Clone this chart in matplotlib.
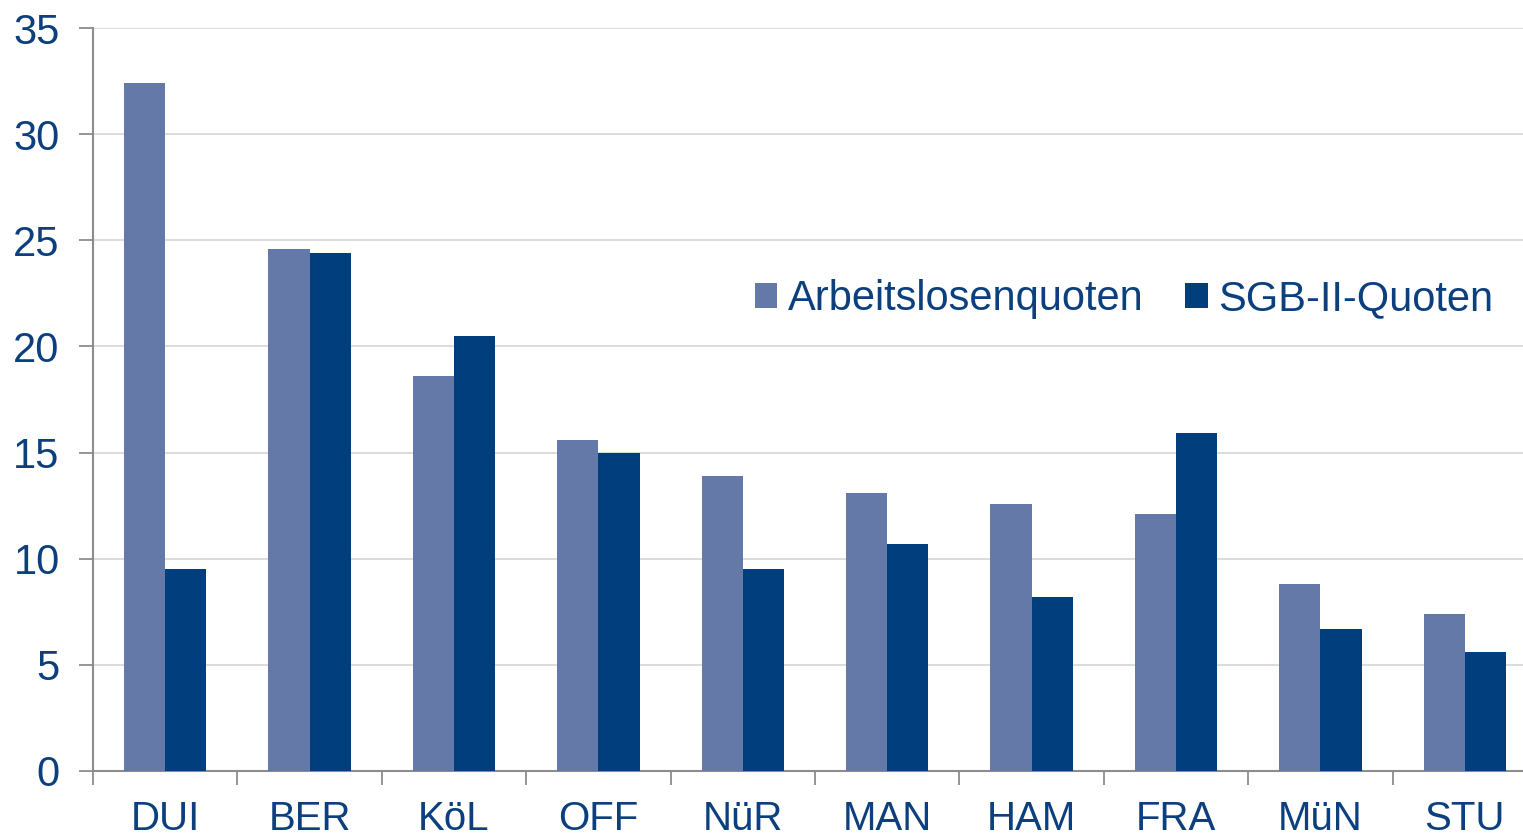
import numpy as np
import matplotlib.pyplot as plt
from matplotlib.ticker import FixedLocator, NullFormatter

plt.rcParams['font.family'] = ['Liberation Sans', 'DejaVu Sans']

staedte = ['DUI', 'BER', 'KöL', 'OFF', 'NüR', 'MAN', 'HAM', 'FRA', 'MüN', 'STU']
arbeitslosenquoten = [32.4, 24.6, 18.6, 15.6, 13.9, 13.1, 12.6, 12.1, 8.8, 7.4]
sgb2_quoten = [9.5, 24.4, 20.5, 15.0, 9.5, 10.7, 8.2, 15.9, 6.7, 5.6]

hell = '#6479A8'
dunkel = '#003E7D'
textfarbe = '#0B3F7E'
achse = '#8C8C8C'

fig = plt.figure(figsize=(15.23, 8.35), dpi=100)
ax = fig.add_axes([93 / 1523, 1 - 771 / 835, 1444 / 1523, 743 / 835])

x = np.arange(len(staedte))
w = 0.285
ax.bar(x - w / 2, arbeitslosenquoten, w, color=hell, label='Arbeitslosenquoten', zorder=3)
ax.bar(x + w / 2, sgb2_quoten, w, color=dunkel, label='SGB-II-Quoten', zorder=3)

ax.set_xlim(-0.5, len(staedte) - 0.5)
ax.set_ylim(0, 35)
ax.set_yticks(np.arange(0, 36, 5))
ax.yaxis.grid(True, color='#D9D9D9', linewidth=1.3, zorder=0)

# Kategorien als Minor-Ticks, Trennstriche als Major-Ticks
ax.xaxis.set_major_locator(FixedLocator(np.arange(-0.5, len(staedte), 1.0)))
ax.xaxis.set_major_formatter(NullFormatter())
ax.xaxis.set_minor_locator(FixedLocator(x))
ax.set_xticklabels(staedte, minor=True)
ax.tick_params(axis='x', which='major', length=10, width=1.3, color=achse, direction='out')
ax.tick_params(axis='x', which='minor', length=0, pad=21, labelsize=29, labelcolor=textfarbe)
ax.tick_params(axis='y', length=10, width=1.3, color=achse, pad=14, labelsize=30, labelcolor=textfarbe)

for s in ['top', 'right']:
    ax.spines[s].set_visible(False)
for s in ['left', 'bottom']:
    ax.spines[s].set_color(achse)
    ax.spines[s].set_linewidth(1.5)

fig.legend(loc='center left', bbox_to_anchor=(717 / 1523, 1 - 299 / 835), ncol=2,
           frameon=False, fontsize=30, labelcolor=textfarbe, handlelength=0.55,
           handleheight=0.55, handletextpad=0.25, columnspacing=1.0)

fig.savefig('out.png', dpi=100)
